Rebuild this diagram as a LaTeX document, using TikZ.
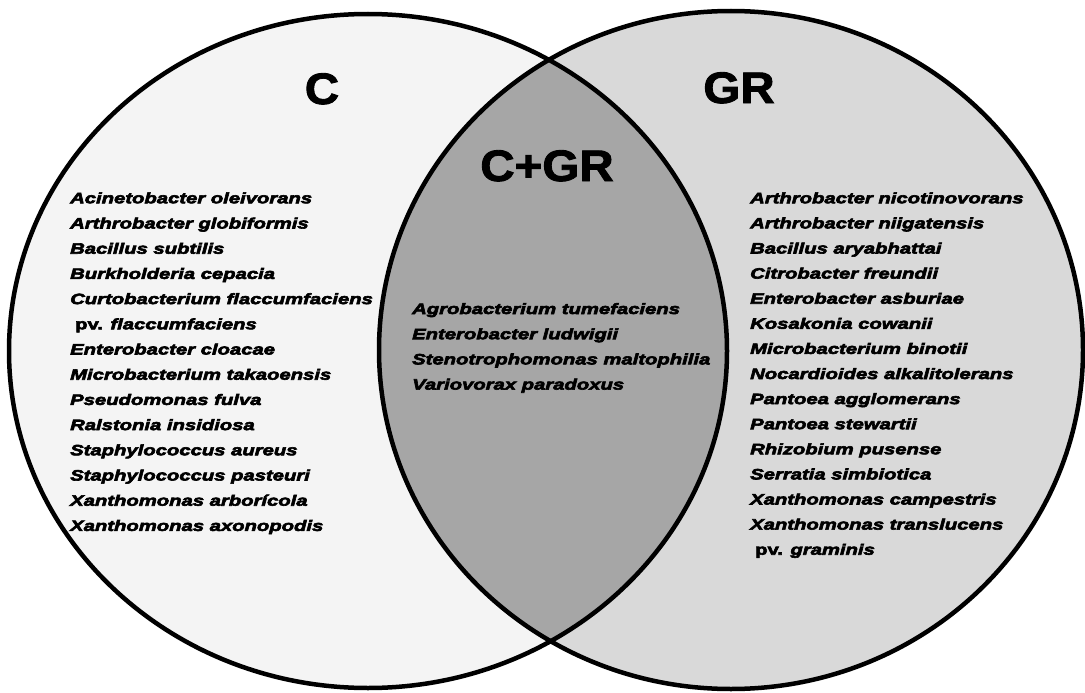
\documentclass[tikz,border=0pt]{standalone}
\usepackage{fontspec}
\setmainfont{Liberation Sans}
\newfontfamily\spfont[FakeStretch=1.35,FakeBold=4]{Liberation Sans}
\newfontfamily\ttlfont[FakeStretch=1.08,FakeBold=2]{Liberation Sans}
\definecolor{leftfill}{HTML}{F4F4F4}
\definecolor{rightfill}{HTML}{D9D9D9}
\definecolor{lensfill}{HTML}{A6A6A6}
\tikzset{
  sp/.style={font=\spfont\bfseries\itshape\fontsize{15}{18}\selectfont, inner sep=0pt, anchor=base west},
  ttl/.style={font=\ttlfont\bfseries\fontsize{44}{50}\selectfont, inner sep=0pt, anchor=base},
  outline/.style={line width=4.5pt, draw=black}
}
\begin{document}
\begin{tikzpicture}[x=1pt,y=-1pt]
\useasboundingbox (0,0) rectangle (1085,693);
% sets
\fill[leftfill] (368,351) ellipse [x radius=359, y radius=337];
\fill[rightfill] (731,350) ellipse [x radius=352, y radius=339];
\begin{scope}
  \clip (368,351) ellipse [x radius=359, y radius=337];
  \fill[lensfill] (731,350) ellipse [x radius=352, y radius=339];
\end{scope}
\draw[outline] (368,351) ellipse [x radius=359, y radius=337];
\draw[outline] (731,350) ellipse [x radius=352, y radius=339];
% titles
\node[ttl] (tC) at (322,104) {C};
\node[ttl] (tGR) at (739,103) {GR};
\node[ttl] (tCGR) at (547,181) {C+GR};
% left list
\node[sp] (l1) at (70,203.3) {Acinetobacter oleivorans};
\node[sp] (l2) at (70,228.5) {Arthrobacter globiformis};
\node[sp] (l3) at (70,253.7) {Bacillus subtilis};
\node[sp] (l4) at (70,278.9) {Burkholderia cepacia};
\node[sp] (l5) at (70,304.1) {Curtobacterium flaccumfaciens};
\node[sp] (l6) at (75,329.3) {\upshape pv. \itshape flaccumfaciens};
\node[sp] (l7) at (70,354.5) {Enterobacter cloacae};
\node[sp] (l8) at (70,379.7) {Microbacterium takaoensis};
\node[sp] (l9) at (70,404.9) {Pseudomonas fulva};
\node[sp] (l10) at (70,430.1) {Ralstonia insidiosa};
\node[sp] (l11) at (70,455.3) {Staphylococcus aureus};
\node[sp] (l12) at (70,480.5) {Staphylococcus pasteuri};
\node[sp] (l13) at (70,505.7) {Xanthomonas arborícola};
\node[sp] (l14) at (70,530.9) {Xanthomonas axonopodis};
% middle list
\node[sp] (m1) at (412,314) {Agrobacterium tumefaciens};
\node[sp] (m2) at (412,339.2) {Enterobacter ludwigii};
\node[sp] (m3) at (412,364.4) {Stenotrophomonas maltophilia};
\node[sp] (m4) at (412,389.6) {Variovorax paradoxus};
% right list
\node[sp] (r1) at (750,203.3) {Arthrobacter nicotinovorans};
\node[sp] (r2) at (750,228.4) {Arthrobacter niigatensis};
\node[sp] (r3) at (750,253.5) {Bacillus aryabhattai};
\node[sp] (r4) at (750,278.6) {Citrobacter freundii};
\node[sp] (r5) at (750,303.7) {Enterobacter asburiae};
\node[sp] (r6) at (750,328.8) {Kosakonia cowanii};
\node[sp] (r7) at (750,353.9) {Microbacterium binotii};
\node[sp] (r8) at (750,379.0) {Nocardioides alkalitolerans};
\node[sp] (r9) at (750,404.1) {Pantoea agglomerans};
\node[sp] (r10) at (750,429.2) {Pantoea stewartii};
\node[sp] (r11) at (750,454.3) {Rhizobium pusense};
\node[sp] (r12) at (750,479.4) {Serratia simbiotica};
\node[sp] (r13) at (750,504.5) {Xanthomonas campestris};
\node[sp] (r14) at (750,529.6) {Xanthomonas translucens};
\node[sp] (r15) at (755,554.7) {\upshape pv. \itshape graminis};
\end{tikzpicture}
\end{document}
